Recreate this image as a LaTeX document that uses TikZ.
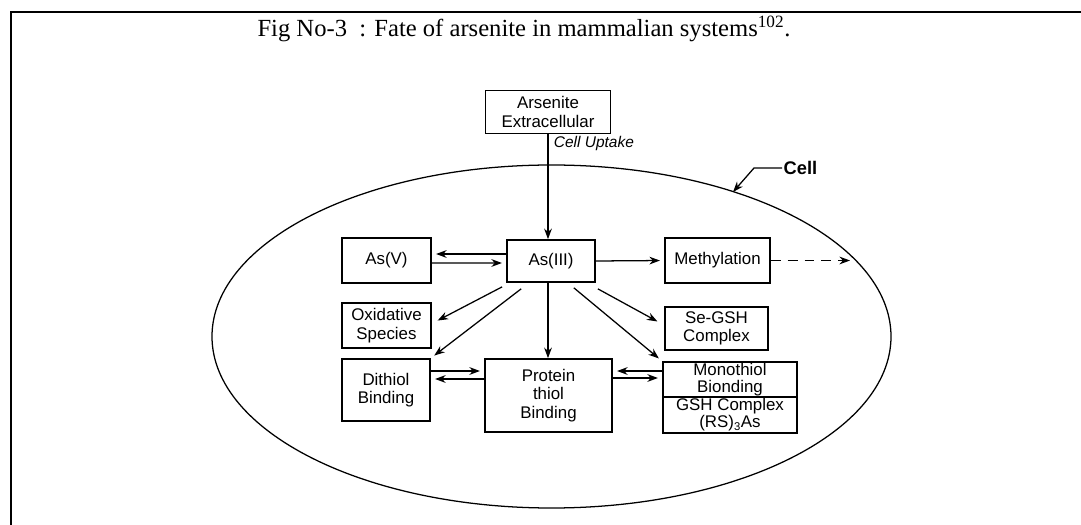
\documentclass[tikz,border=0pt]{standalone}
\usepackage{fontspec}
\setmainfont{Liberation Serif}
\setsansfont{Liberation Sans}
\usetikzlibrary{calc, arrows.meta}
\tikzset{>={Stealth[length=7.5pt, width=5.5pt]}}
\tikzset{fatebox/.style={draw, line width=1.2pt, inner sep=0pt, align=center,
    font=\sffamily\fontsize{12}{13}\selectfont},
  flow/.style={->, line width=0.9pt, shorten >=3pt}}

\begin{document}
\begin{tikzpicture}[x=0.025cm, y=-0.025cm]
    \useasboundingbox (0,0) rectangle (1081,525);
    % page frame
    \draw[line width=1.3pt] (10,12) -- (1081,12);
    \draw[line width=1.3pt] (11,12) -- (11,525);
    \node (ttl) at (524,29) {\fontsize{17.5}{20}\selectfont Fig No-3~~: Fate of arsenite in mammalian systems\textsuperscript{102}.};
    % the cell
    \draw[line width=0.9pt] (551.5,336.5) ellipse [x radius=339.5, y radius=171.5];
    \coordinate (celltip) at (733,192);
    \coordinate (methend) at (850,260.5);
    \node[font=\sffamily\bfseries\fontsize{13}{15}\selectfont, anchor=west, inner sep=1pt] (celllbl) at (782,168) {Cell};
    \draw[flow, shorten >=0pt] (celllbl.west) -- ++(-28,0) -- (celltip);
    % boxes
    \node[fatebox, minimum width=3.125cm, minimum height=1.075cm] (ext) at (548,112) {Arsenite\\Extracellular};
    \node[fatebox, minimum width=2.2cm, minimum height=1.05cm] (asiii) at (551,261) {As(III)};
    \node[fatebox, minimum width=2.225cm, minimum height=1.125cm] (asv) at (386.5,260.5) {As(V)};
    \node[fatebox, minimum width=2.625cm, minimum height=1.125cm] (meth) at (717.5,260.5) {Methylation};
    \node[fatebox, minimum width=2.225cm, minimum height=1.125cm] (oxi) at (386.5,325.5) {Oxidative\\Species};
    \node[fatebox, minimum width=2.575cm, minimum height=1.075cm] (segsh) at (716.5,328.5) {Se-GSH\\Complex};
    \node[fatebox, minimum width=2.2cm, minimum height=1.55cm] (dith) at (386,390) {Dithiol\\Binding};
    \node[fatebox, minimum width=3.175cm, minimum height=1.825cm] (prot) at (548.5,395.5) {Protein\\thiol\\Binding};
    \node[fatebox, minimum width=3.35cm, minimum height=0.875cm, font=\sffamily\fontsize{12}{12}\selectfont] (mono) at (730,379.5) {Monothiol\\Bionding};
    \node[fatebox, minimum width=3.35cm, minimum height=0.9cm, font=\sffamily\fontsize{12}{12}\selectfont] (gsh) at (730,415) {GSH Complex\\(RS)\textsubscript{3}As};
    % uptake
    \draw[flow, shorten >=0pt] (ext.south) -- (ext.south |- asiii.north);
    \node[font=\sffamily\itshape\fontsize{11}{13}\selectfont, anchor=west] (upt) at (549,144) {Cell Uptake};
    % arrows
    \draw[flow] ($(asiii.west)+(0,-7)$) -- ($(asv.east)+(0,-6.5)$);
    \draw[flow] ($(asv.east)+(0,2.5)$) -- ($(asiii.west)+(0,2)$);
    \draw[flow] (asiii.east) -- (meth.west);
    \draw[flow, dashed, dash pattern=on 7pt off 5pt, shorten >=0pt] (meth.east) -- (methend);
    \draw[flow] ($(asiii.south west)+(-4,4)$) -- ($(oxi.east)+(2,-3)$);
    \draw[flow] ($(asiii.south west)+(15,6)$) -- (dith.north east);
    \draw[flow, shorten >=0pt] ($(asiii.south)+(-3,0)$) -- ($(prot.north)+(-0.5,0)$);
    \draw[flow] ($(asiii.south east)+(2,6)$) -- ($(segsh.west)+(-3,-5)$);
    \draw[flow] ($(asiii.south east)+(-22,5)$) -- (mono.north west);
    \draw[flow] ($(dith.east)+(0,-19)$) -- ($(prot.west)+(0,-24.5)$);
    \draw[flow] ($(prot.west)+(0,-16.5)$) -- ($(dith.east)+(0,-11)$);
    \draw[flow] ($(mono.west)+(0,-8.5)$) -- ($(prot.east)+(0,-24.5)$);
    \draw[flow] ($(prot.east)+(0,-17.5)$) -- ($(mono.west)+(0,-1.5)$);
\end{tikzpicture}
\end{document}
